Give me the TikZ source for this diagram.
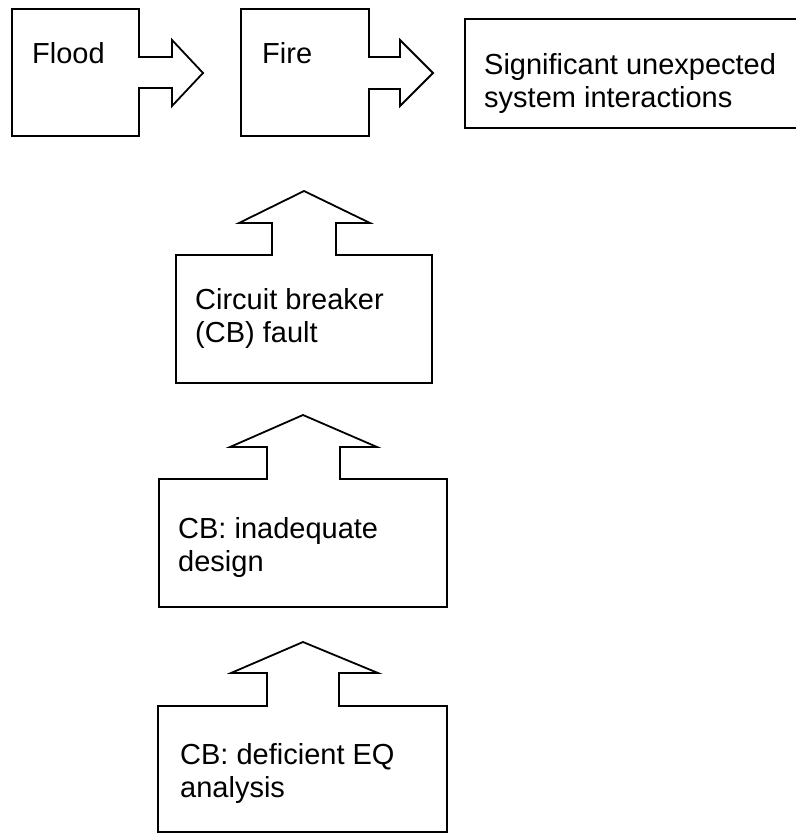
\documentclass[tikz,border=0pt]{standalone}
\usepackage{fontspec}
\setmainfont{Liberation Sans}
\begin{document}
\begin{tikzpicture}[x=1bp,y=-1bp,
  outline/.style={draw=black,line width=1.8bp,line join=miter,fill=white},
  label/.style={anchor=base west,inner sep=0pt,align=left,
    font=\fontsize{29bp}{33bp}\selectfont}]
\useasboundingbox (0,0) rectangle (796,834);

% Flood box with right-pointing arrow
\draw[outline] (12,9) -- (139,9) -- (139,57) -- (172,57) -- (172,40) -- (203,73)
  -- (172,106) -- (172,88) -- (139,88) -- (139,136) -- (12,136) -- cycle;
% Fire box with right-pointing arrow
\draw[outline] (241,9) -- (369,9) -- (369,57) -- (400,57) -- (400,40) -- (433,73)
  -- (400,106) -- (400,89) -- (369,89) -- (369,136) -- (241,136) -- cycle;
% Consequence box (runs off the right edge)
\draw[outline] (800,19) -- (465,19) -- (465,128) -- (800,128);

% Circuit breaker fault with upward arrow
\draw[outline] (176,255) -- (272,255) -- (272,223) -- (239,223) -- (304,191)
  -- (370,223) -- (336,223) -- (336,255) -- (432,255) -- (432,383) -- (176,383) -- cycle;
% Inadequate design with upward arrow
\draw[outline] (159,479) -- (267,479) -- (267,447) -- (230,447) -- (303,415)
  -- (377,447) -- (340,447) -- (340,479) -- (447,479) -- (447,607) -- (159,607) -- cycle;
% Deficient EQ analysis with upward arrow
\draw[outline] (158,706) -- (267,706) -- (267,673) -- (231,673) -- (303,642)
  -- (378,673) -- (339,673) -- (339,706) -- (447,706) -- (447,832) -- (158,832) -- cycle;

% multi-line labels are placed by the baseline of their last line
\node[label] (flood) at (32,63) {Flood};
\node[label] (fire) at (262,63) {Fire};
\node[label] (sig) at (484,107) {Significant unexpected\\system interactions};
\node[label] (cbf) at (195,342) {Circuit breaker\\(CB) fault};
\node[label] (cbd) at (178,571) {CB: inadequate\\design};
\node[label] (cbe) at (180,797) {CB: deficient EQ\\analysis};
\end{tikzpicture}
\end{document}
